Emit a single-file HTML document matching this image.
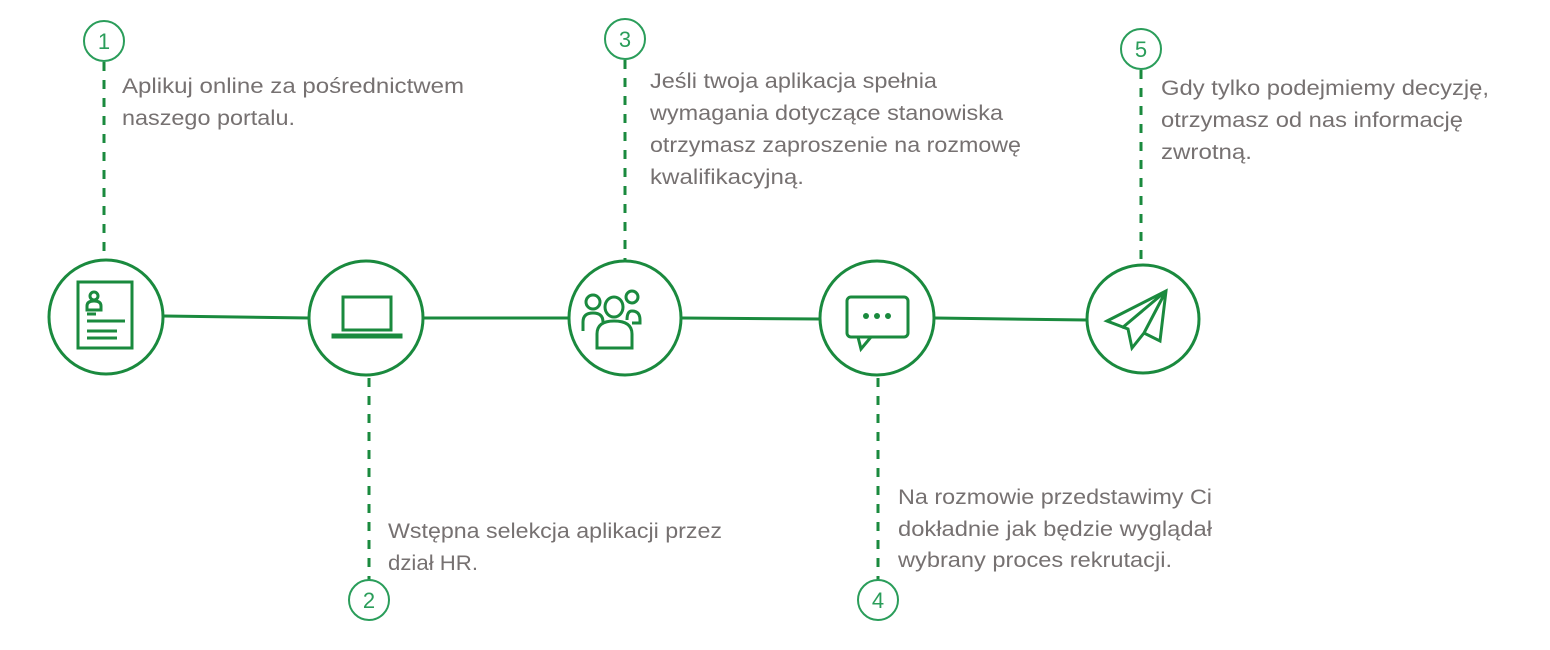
<!DOCTYPE html>
<html><head><meta charset="utf-8"><style>body{margin:0;background:#fff}svg{display:block}</style></head><body>
<svg width="1550" height="650" viewBox="0 0 1550 650" xmlns="http://www.w3.org/2000/svg" font-family="Liberation Sans, sans-serif">
<g stroke="#1a8a3e" stroke-width="3" fill="none">
<line x1="164" y1="316" x2="309" y2="318"/>
<line x1="424" y1="318" x2="568" y2="318"/>
<line x1="682" y1="318" x2="820" y2="319"/>
<line x1="935" y1="318" x2="1087" y2="320"/>
<circle cx="106" cy="317" r="57"/>
<circle cx="366" cy="318" r="57"/>
<ellipse cx="625" cy="318" rx="56" ry="57"/>
<ellipse cx="877" cy="318" rx="57" ry="57"/>
<ellipse cx="1143" cy="319" rx="56" ry="54"/>
</g>
<g stroke="#1a8a3e" stroke-width="3" stroke-dasharray="9 9" fill="none">
<line x1="104" y1="62" x2="104" y2="258"/>
<line x1="625" y1="60" x2="625" y2="260"/>
<line x1="1141" y1="70" x2="1141" y2="265"/>
<line x1="369" y1="378" x2="369" y2="580"/>
<line x1="878" y1="378" x2="878" y2="580"/>
</g>
<g stroke="#2a9d5a" stroke-width="2" fill="#fff">
<circle cx="104" cy="41" r="20"/>
<circle cx="625" cy="39" r="20"/>
<circle cx="1141" cy="49" r="20"/>
<circle cx="369" cy="600" r="20"/>
<circle cx="878" cy="600" r="20"/>
</g>
<g fill="#2a9d5a" font-size="22" text-anchor="middle">
<text x="104" y="49">1</text><text x="625" y="47">3</text><text x="1141" y="57">5</text>
<text x="369" y="608">2</text><text x="878" y="608">4</text>
</g>
<g stroke="#1a8a3e" stroke-width="3" fill="none">
<rect x="78" y="282" width="54" height="66"/>
<circle cx="94" cy="296" r="4"/><path d="M87 310 v-4 q0-5 7-5 q7 0 7 5 v4z"/>
<line x1="87" y1="314" x2="96" y2="314"/><line x1="87" y1="321" x2="125" y2="321"/>
<line x1="87" y1="331" x2="117" y2="331"/><line x1="87" y1="338" x2="117" y2="338"/>
<rect x="343" y="297" width="48" height="33"/>
<path d="M333 335 h68 v2 h-68z"/>
<circle cx="593" cy="302" r="7"/><circle cx="632" cy="297" r="6"/>
<path d="M583 331 v-9 q0-9 10-9 q10 0 10 9"/>
<path d="M627 320 q0-9 5-9 q8 0 8 9 v3 h-8"/>
<ellipse cx="614" cy="307" rx="9" ry="10" fill="#fff"/>
<path d="M597 348 v-14 q0-13 17-13 q18 0 18 13 v14z" fill="#fff"/>
<rect x="847" y="297" width="61" height="40" rx="4"/>
<path d="M858 337 l3 12 l10-12"/>
<path d="M1107 321 l59-30 l-6 50 l-16-8 l-12 15 l-4-19z M1166 291 l-44 37 M1166 291 l-22 42"/>
</g>
<g fill="#1a8a3e"><circle cx="866" cy="316" r="3"/><circle cx="877" cy="316" r="3"/><circle cx="888" cy="316" r="3"/></g>
<g fill="#767171" font-size="21" lengthAdjust="spacingAndGlyphs">
<text x="122" y="93" textLength="342" lengthAdjust="spacingAndGlyphs">Aplikuj online za pośrednictwem</text>
<text x="122" y="125" textLength="173" lengthAdjust="spacingAndGlyphs">naszego portalu.</text>
<text x="650" y="88" textLength="287" lengthAdjust="spacingAndGlyphs">Jeśli twoja aplikacja spełnia</text>
<text x="650" y="120" textLength="353" lengthAdjust="spacingAndGlyphs">wymagania dotyczące stanowiska</text>
<text x="650" y="152" textLength="371" lengthAdjust="spacingAndGlyphs">otrzymasz zaproszenie na rozmowę</text>
<text x="650" y="184" textLength="154" lengthAdjust="spacingAndGlyphs">kwalifikacyjną.</text>
<text x="1161" y="95" textLength="328" lengthAdjust="spacingAndGlyphs">Gdy tylko podejmiemy decyzję,</text>
<text x="1161" y="127" textLength="302" lengthAdjust="spacingAndGlyphs">otrzymasz od nas informację</text>
<text x="1161" y="159" textLength="91" lengthAdjust="spacingAndGlyphs">zwrotną.</text>
<text x="388" y="538" textLength="334" lengthAdjust="spacingAndGlyphs">Wstępna selekcja aplikacji przez</text>
<text x="388" y="570" textLength="90" lengthAdjust="spacingAndGlyphs">dział HR.</text>
<text x="898" y="504" textLength="314" lengthAdjust="spacingAndGlyphs">Na rozmowie przedstawimy Ci</text>
<text x="898" y="536" textLength="314" lengthAdjust="spacingAndGlyphs">dokładnie jak będzie wyglądał</text>
<text x="898" y="567" textLength="274" lengthAdjust="spacingAndGlyphs">wybrany proces rekrutacji.</text>
</g>
</svg>
</body></html>
